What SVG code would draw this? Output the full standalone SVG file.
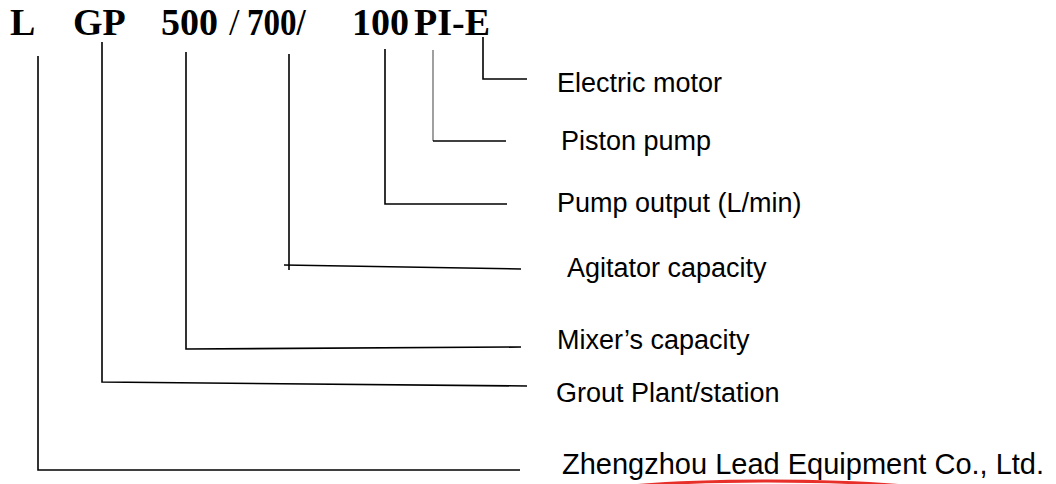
<svg xmlns="http://www.w3.org/2000/svg" width="1056" height="484" viewBox="0 0 1056 484">
<style>
.title{font-family:"Liberation Serif","Times New Roman",serif;font-weight:bold;font-size:38px;fill:#000}
.thin{font-weight:normal}
.lbl{font-family:"Liberation Sans",Arial,sans-serif;font-size:27px;fill:#000}
.big{font-size:29px}
.ln{stroke:#000;stroke-width:1.6;fill:none}
.lg{stroke:#777;stroke-width:1.4;fill:none}
</style>
<rect width="1056" height="484" fill="#fff"/>
<g id="code">
<text class="title" x="10" y="35">L</text>
<text class="title" x="73" y="35">GP</text>
<text class="title" x="161" y="35">500</text>
<text class="title thin" x="229" y="35">/</text>
<text class="title" transform="translate(247,35) scale(0.87,1)">700/</text>
<text class="title" x="352" y="35">100</text>
<text class="title" x="414" y="35">PI-E</text>
</g>
<g id="connectors">
<polyline class="ln" points="483,37 483,79 527,79"/>
<polyline class="lg" points="433,50 433,141"/>
<polyline class="ln" points="433,141 506,141"/>
<polyline class="ln" points="385,49 385,204 507,204"/>
<polyline class="ln" points="289,54 289,270"/>
<polyline class="ln" points="284,265 521,269"/>
<polyline class="ln" points="186,52 186,349 521,347"/>
<polyline class="ln" points="102,42 102,382 527,386"/>
<polyline class="ln" points="38,56 38,470 520,470"/>
</g>
<g id="labels">
<text class="lbl" x="557" y="92">Electric motor</text>
<text class="lbl" x="561" y="150">Piston pump</text>
<text class="lbl" x="557" y="212">Pump output (L/min)</text>
<text class="lbl" x="567" y="277">Agitator capacity</text>
<text class="lbl" x="557" y="349">Mixer’s capacity</text>
<text class="lbl" x="556" y="402">Grout Plant/station</text>
<text class="lbl big" x="562" y="474">Zhengzhou Lead Equipment Co., Ltd.</text>
</g>
<g id="stamp">
<ellipse cx="768" cy="501" rx="206" ry="20" fill="none" stroke="#e8302a" stroke-width="3"/>
</g>
</svg>
